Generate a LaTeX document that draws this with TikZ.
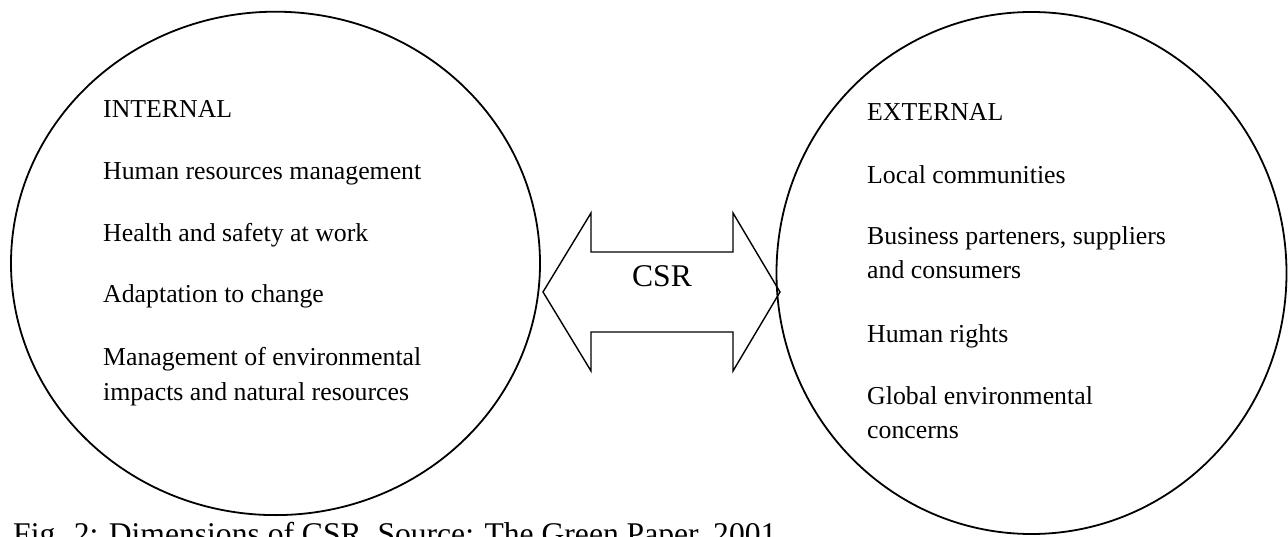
\documentclass[tikz,border=0pt]{standalone}
\usepackage{fontspec}
\setmainfont{Liberation Serif}
\begin{document}
\begin{tikzpicture}[x=1pt,y=-1pt,
  body/.style={anchor=base west,inner sep=0pt,font=\fontsize{25.8}{30}\selectfont},
  big/.style={inner sep=0pt,font=\fontsize{31.6}{36}\selectfont},
  ring/.style={draw,line width=1.8pt},
  darrow/.style={draw,line width=1.4pt,line join=miter}]
\useasboundingbox (0,0) rectangle (1288,537);
\clip (0,0) rectangle (1288,537);
% circles
\draw[ring] (275.5,263.4) ellipse [x radius=264.5, y radius=251.7];
\draw[ring] (1031.5,273) ellipse [x radius=255, y radius=261];
% double arrow
\coordinate (tl) at (543,292);
\coordinate (tr) at (780,292);
\draw[darrow] (tl) -- (591,213) -- (591,252) -- (733,252) -- (733,213) -- (tr)
  -- (733,371) -- (733,332) -- (591,332) -- (591,371) -- cycle;
\node[big,anchor=base] (csr) at (662,287) {CSR};
% internal
\node[body] (int) at (103,117.7) {INTERNAL};
\node[body] (i1) at (103,179.8) {Human resources management};
\node[body] (i2) at (103,241.4) {Health and safety at work};
\node[body] (i3) at (103,303) {Adaptation to change};
\node[body] (i4a) at (103,365.8) {Management of environmental};
\node[body] (i4b) at (103,400.7) {impacts and natural resources};
% external
\node[body] (ext) at (867,120.7) {EXTERNAL};
\node[body] (e1) at (867,183.2) {Local communities};
\node[body] (e2a) at (867,244.9) {Business parteners, suppliers};
\node[body] (e2b) at (867,279) {and consumers};
\node[body] (e3) at (867,342.5) {Human rights};
\node[body] (e4a) at (867,404) {Global environmental};
\node[body] (e4b) at (867,438) {concerns};
% caption
\node[big,anchor=base west] (cap) at (13,544) {Fig. 2: Dimensions of CSR. Source: The Green Paper, 2001};
\end{tikzpicture}
\end{document}
